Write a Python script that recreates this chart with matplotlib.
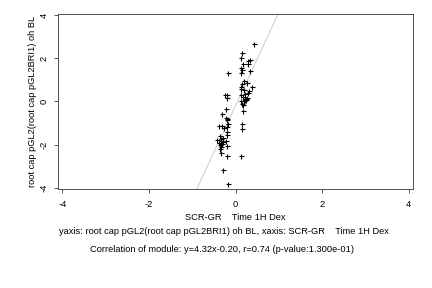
import matplotlib
matplotlib.use("Agg")
import matplotlib.pyplot as plt
import numpy as np

plt.rcParams['font.family'] = ['Liberation Sans', 'DejaVu Sans']

# data points (x: SCR-GR Time 1H Dex, y: root cap pGL2 oh BL)
xs = [0.43, 0.15, 0.13, 0.30, 0.33, 0.28, 0.18, 0.13, 0.15, 0.34, -0.18, 0.13,
      0.20, 0.16, 0.27, 0.13, 0.39, 0.12, 0.19, 0.32, 0.29, 0.23, 0.13, 0.17,
      0.22, 0.26, 0.12, 0.20, 0.16, 0.18, 0.24, -0.24, -0.20, -0.19, 0.17,
      -0.22, -0.31, -0.22, -0.19, -0.20, 0.15, 0.15, -0.39, -0.31, -0.17,
      -0.20, -0.26, -0.20, -0.19, -0.36, -0.30, -0.42, -0.33, -0.37, -0.32,
      -0.35, -0.21, -0.20, -0.33, -0.36, -0.33, -0.19, 0.12, -0.29, -0.17,
      -0.34, -0.28, 0.22, 0.25]
ys = [2.65, 2.25, 2.00, 1.86, 1.90, 1.74, 1.71, 1.54, 1.45, 1.42, 1.30, 1.33,
      0.93, 0.82, 0.83, 0.69, 0.69, 0.56, 0.51, 0.48, 0.40, 0.34, 0.31, 0.22,
      0.10, 0.15, 0.02, 0.00, -0.10, -0.15, 0.05, 0.28, 0.30, 0.15, -0.46,
      -0.34, -0.60, -0.76, -0.80, -0.88, -1.06, -1.30, -1.13, -1.15, -1.06,
      -1.20, -1.25, -1.42, -1.57, -1.59, -1.70, -1.80, -1.83, -1.92, -1.96,
      -2.00, -1.85, -2.08, -2.12, -2.22, -2.41, -2.53, -2.53, -3.20, -3.83,
      -1.75, -1.88, 0.05, 0.12]

slope = 4.32
intercept = -0.20
x_ticks = [-4, -2, 0, 2, 4]
y_ticks = [-4, -2, 0, 2, 4]

xlabel = "SCR-GR    Time 1H Dex"
ylabel = "root cap pGL2(root cap pGL2BRI1) oh BL"
line1 = "yaxis: root cap pGL2(root cap pGL2BRI1) oh BL, xaxis: SCR-GR    Time 1H Dex"
line2 = "Correlation of module: y=4.32x-0.20, r=0.74 (p-value:1.300e-01)"

FS = 9.3

fig = plt.figure(figsize=(6, 4), dpi=72)
ax = fig.add_axes([58/432, 1-189/288, (413-58)/432, (189-14)/288])

xl = np.array([-4.1, 4.1])
ax.plot(xl, slope*xl + intercept, color='#cccccc', lw=1.0, zorder=1)
ax.plot(xs, ys, linestyle='none', marker='+', color='black', ms=5, mew=1.1, zorder=2)

ax.set_xlim(-4.1, 4.1)
ax.set_ylim(-4.06, 4.05)
ax.set_xticks(x_ticks)
ax.set_yticks(y_ticks)
ax.set_xticklabels([str(t) for t in x_ticks])
ax.set_yticklabels([str(t) for t in y_ticks], rotation=90, va='center')
ax.tick_params(direction='out', length=4, width=0.8, labelsize=FS, colors='#333333',
               labelcolor='black')
ax.tick_params(axis='x', pad=7)
ax.tick_params(axis='y', pad=5)
for s in ax.spines.values():
    s.set_color('#444444')
    s.set_linewidth(0.9)

ax.set_xlabel(xlabel, fontsize=FS, labelpad=4)
ax.set_ylabel(ylabel, fontsize=FS, labelpad=3)

fig.text(224/432, 1-232/288, line1, ha='center', va='center', fontsize=FS)
fig.text(222/432, 1-250/288, line2, ha='center', va='center', fontsize=FS)

fig.savefig("out.png", dpi=72)
